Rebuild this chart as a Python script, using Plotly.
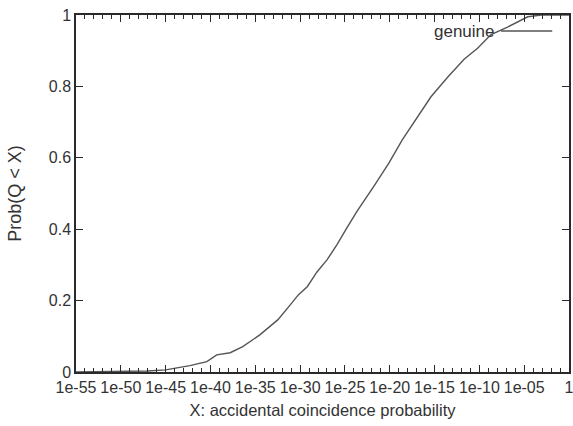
import plotly.graph_objects as go

# data (x: accidental coincidence probability, y: Prob(Q < X))
x_vals = [1e-55, 1e-50, 1e-47, 1e-45, 4e-44, 5e-43, 4e-41, 5e-40, 1.6e-38, 4e-37,
          3.2e-35, 3.2e-33, 8e-32, 6.3e-31, 6.3e-30, 8e-29, 1e-27, 1.26e-26, 2e-25,
          2.5e-24, 1.6e-22, 8e-21, 2.5e-19, 1.26e-17, 4e-16, 3.2e-14, 2e-12, 6.3e-11,
          2e-9, 1.6e-7, 2.5e-5, 8e-4, 1.0]
y_vals = [0.0, 0.001, 0.003, 0.006, 0.013, 0.018, 0.029, 0.048, 0.054, 0.071,
          0.104, 0.146, 0.188, 0.216, 0.239, 0.281, 0.314, 0.356, 0.407,
          0.452, 0.519, 0.585, 0.65, 0.715, 0.771, 0.827, 0.876, 0.907,
          0.945, 0.967, 0.995, 1.0, 1.0]

x_tickvals = [1e-55, 1e-50, 1e-45, 1e-40, 1e-35, 1e-30, 1e-25, 1e-20, 1e-15, 1e-10, 1e-05, 1]
x_ticktext = ["1e-55", "1e-50", "1e-45", "1e-40", "1e-35", "1e-30", "1e-25",
              "1e-20", "1e-15", "1e-10", "1e-05", "1"]
y_tickvals = [0, 0.2, 0.4, 0.6, 0.8, 1]
y_ticktext = ["0", "0.2", "0.4", "0.6", "0.8", "1"]
series_name = "genuine"

font = "Liberation Sans, Arial, sans-serif"
axis_col = "#2a2a2a"
text_col = "#333"

fig = go.Figure()
fig.add_trace(go.Scatter(x=x_vals, y=y_vals, mode="lines", name=series_name,
                         line=dict(color="#555555", width=1.4), showlegend=False))

fig.update_layout(
    width=573, height=426,
    margin=dict(l=76, r=2, t=15, b=54),
    paper_bgcolor="white", plot_bgcolor="white",
    font=dict(family=font, size=16, color=text_col),
)
fig.update_xaxes(
    type="log", range=[-55, 0],
    tickmode="array", tickvals=x_tickvals, ticktext=x_ticktext, tickangle=0,
    ticklabeloverflow="allow",
    ticks="inside", ticklen=7, tickwidth=1.2, tickcolor=axis_col,
    minor=dict(tickmode="linear", tick0=0, dtick=1, ticks="inside", ticklen=4,
               tickwidth=1, tickcolor=axis_col, showgrid=False),
    showline=True, linecolor=axis_col, linewidth=1.5, mirror="ticks",
    showgrid=False, zeroline=False,
    tickfont=dict(size=16, color=text_col),
    title=dict(text="X: accidental coincidence probability", font=dict(size=16.5, color=text_col), standoff=9),
    automargin=False,
)
fig.update_yaxes(
    range=[0, 1],
    tickmode="array", tickvals=y_tickvals, ticktext=y_ticktext,
    ticks="inside", ticklen=7, tickwidth=1.2, tickcolor=axis_col,
    showline=True, linecolor=axis_col, linewidth=1.5, mirror="ticks",
    showgrid=False, zeroline=False,
    tickfont=dict(size=16, color=text_col),
    title=dict(text="Prob(Q < X)", font=dict(size=18, color=text_col), standoff=22),
)

# gnuplot-style key: text then line sample, top right
fig.add_annotation(xref="paper", yref="paper", x=0.853, y=0.955, text=series_name,
                   showarrow=False, xanchor="right", yanchor="middle",
                   font=dict(size=17, color=text_col, family=font))
fig.add_shape(type="line", xref="paper", yref="paper", x0=0.862, x1=0.966, y0=0.955, y1=0.955,
              line=dict(color="#555555", width=1.4))

fig.write_html("out.html")
